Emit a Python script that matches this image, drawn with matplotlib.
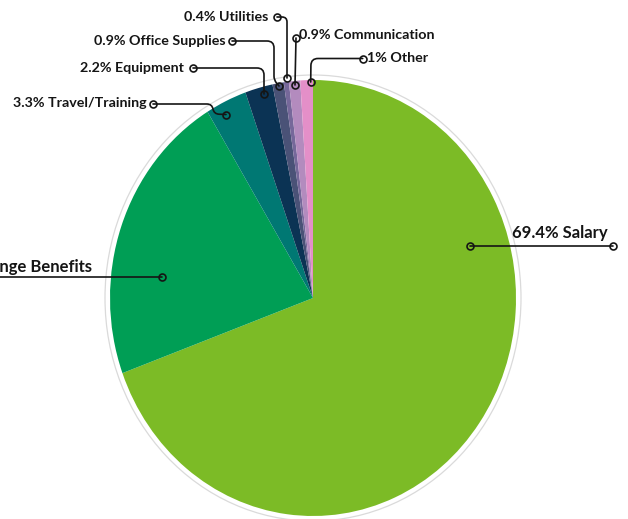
import matplotlib
matplotlib.use("Agg")
import matplotlib.pyplot as plt
from matplotlib.path import Path
from matplotlib.patches import PathPatch, Ellipse
import numpy as np

# data
categories = ["Salary", "Fringe Benefits", "Travel/Training", "Equipment",
              "Office Supplies", "Utilities", "Communication", "Other"]
values = [69.4, 21.9, 3.3, 2.2, 0.9, 0.4, 0.9, 1.0]
value_labels = ["69.4%", "21.9%", "3.3%", "2.2%", "0.9%", "0.4%", "0.9%", "1%"]
colors = ["#7CBB26", "#009E55", "#007873", "#0B3354",
          "#4A5277", "#76689A", "#B38BBE", "#E48FC8"]

INK = "#151515"
RING = "#DADADA"

# pie geometry in pixels (the chart is slightly stretched vertically)
CX, CY, RX, RY = 313, 298, 203, 218
W, H = 628, 519


def to_xy(px, py):
    return (px - CX) / RX, (CY - py) / RY


def rounded(points, r=7):
    """Polyline in pixels -> path with rounded corners."""
    pts = [np.array(p, float) for p in points]
    verts, codes = [pts[0]], [Path.MOVETO]
    for i in range(1, len(pts) - 1):
        a, b, c = pts[i - 1], pts[i], pts[i + 1]
        d1 = (b - a) / np.linalg.norm(b - a)
        d2 = (c - b) / np.linalg.norm(c - b)
        rr = min(r, np.linalg.norm(b - a) / 2, np.linalg.norm(c - b) / 2)
        verts += [b - d1 * rr, b, b + d2 * rr]
        codes += [Path.LINETO, Path.CURVE3, Path.CURVE3]
    verts.append(pts[-1])
    codes.append(Path.LINETO)
    return Path([to_xy(*v) for v in verts], codes)


# label layout: (leader polyline in px, text pos px, ha, fontsize)
layout = [
    ([(470, 245.5), (612.5, 245.5)], (608, 233), "right", 12),
    ([(162, 277), (-20, 277)], (92, 267), "right", 12),
    ([(226, 114.5), (214, 114), (212, 104), (153, 104)], (147, 103), "right", 10.3),
    ([(264, 94), (264, 68), (193, 68)], (184, 68), "right", 10.3),
    ([(279, 86), (274, 80), (274, 41), (232, 41)], (226, 41), "right", 10.3),
    ([(287, 78), (287, 17), (277, 17)], (268, 17), "right", 10.3),
    ([(295, 85), (296, 38)], (299, 35), "left", 10.3),
    ([(310.7, 82), (311, 58.5), (362.7, 58.5)], (367, 58), "left", 10.3),
]

plt.rcParams["font.family"] = ["Lato", "DejaVu Sans"]

fig = plt.figure(figsize=(W / 100, H / 100), dpi=100)
ax = fig.add_axes([0, 0, 1, 1])

ax.pie(values, colors=colors, startangle=90, counterclock=False,
       radius=1, center=(0, 0), wedgeprops=dict(linewidth=0))
ax.add_patch(Ellipse((0, 0), 2 * (RX + 5) / RX, 2 * (RY + 5) / RY,
                     fill=False, edgecolor=RING, linewidth=0.9, zorder=0))

for (pts, tpos, ha, fs), cat, lab in zip(layout, categories, value_labels):
    ax.add_patch(PathPatch(rounded(pts), fill=False, edgecolor=INK,
                           linewidth=1.2, capstyle="round", zorder=4,
                           clip_on=False))
    for p in (pts[0], pts[-1]):
        x, y = to_xy(*p)
        ax.plot(x, y, "o", ms=5, mfc="none", mec=INK, mew=1.2, zorder=5,
                clip_on=False)
    tx, ty = to_xy(*tpos)
    ax.text(tx, ty, f"{lab} {cat}", ha=ha, va="center", fontsize=fs,
            color=INK, fontweight="bold")

ax.set_aspect("auto")
ax.set_xlim(-CX / RX, (W - CX) / RX)
ax.set_ylim(-(H - CY) / RY, CY / RY)
ax.axis("off")

fig.savefig("out.png", dpi=100, facecolor="white")
